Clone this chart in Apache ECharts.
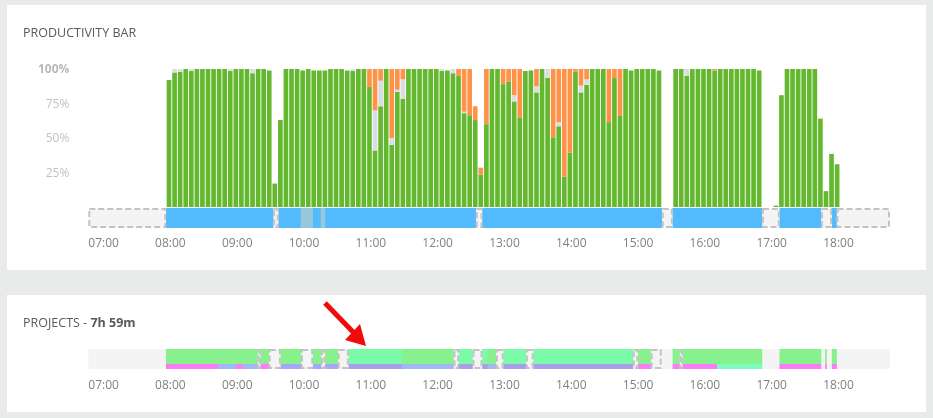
<!DOCTYPE html>
<html><head><meta charset="utf-8">
<script src="https://cdn.jsdelivr.net/npm/echarts@6/dist/echarts.min.js"></script>
<style>
html,body{margin:0;padding:0;background:#e9ebea;}
#wrap{position:relative;width:933px;height:418px;overflow:hidden;}
.panel{position:absolute;background:#fff;}
#chart{position:absolute;left:0;top:0;width:933px;height:418px;}
</style></head><body>
<div id="wrap">
<div class="panel" style="left:7px;top:5px;width:919px;height:265px"></div>
<div class="panel" style="left:7px;top:295px;width:919px;height:117px"></div>
<div id="chart"></div>
</div>
<script>
// ---- data ----
const slotTimes = [
'08:10','08:15','08:20','08:25','08:30','08:35','08:40','08:45','08:50','08:55',
'09:00','09:05','09:10','09:15','09:20','09:25','09:30','09:35','09:40','09:45','09:50','09:55',
'10:00','10:05','10:10','10:15','10:20','10:25','10:30','10:35','10:40','10:45','10:50','10:55',
'11:00','11:05','11:10','11:15','11:20','11:25','11:30','11:35','11:40','11:45','11:50','11:55',
'12:00','12:05','12:10','12:15','12:20','12:25','12:30','12:35','12:40','12:45','12:50','12:55',
'13:00','13:05','13:10','13:15','13:20','13:25','13:30','13:35','13:40','13:45','13:50','13:55',
'14:00','14:05','14:10','14:15','14:20','14:25','14:30','14:35','14:40','14:45','14:50','14:55',
'15:00','15:05','15:10','15:15','15:20','15:25','15:30','15:35','15:40','15:45','15:50','15:55',
'16:00','16:05','16:10','16:15','16:20','16:25','16:30','16:35','16:40','16:45','16:50','16:55',
'17:00','17:05','17:10','17:15','17:20','17:25','17:30','17:35','17:40','17:45','17:50','17:55',
'18:00','18:05','18:10'];
const greenPct = [
92,97.5,98,100,98.5,100,100,100,100,100,
100,98.5,100,100,100,97,100,100,99,17,
63,100,100,100,99,100,99,99,99,100,
100,100,99,98.5,100,100,87,41,73,100,
45,83.5,78.5,100,100,100,100,100,100,98.5,
99,97,95,68,66.5,63,23.5,60,100,100,
89,91,76.5,65,98.5,99,83,100,93.5,50.5,
58.5,22,39.5,98,83,88.5,100,100,100,61.5,
93.5,66,100,99,100,100,100,100,99,0,
0,100,100,95,100,100,100,100,99,100,
100,100,100,100,100,100,99,0,0,1,
81,100,100,100,100,100,100,64,11.5,38.5,
31];
const grayPct = [
0,2.5,2,0,1.5,0,0,0,0,0,
0,1.5,0,0,0,3,0,0,0,0,
0,0,0,0,0,0,0,0,0,0,
0,0,0,1.5,0,0,0,29,18.5,0,
5,1.5,14,0,0,0,0,0,0,1.5,
0,3,0,1,0,0,0,0,0,0,
0,0,4.5,0,0,0,4.5,0,6.5,0,
3,0,0,0,5,4,0,0,0,0,
0,0,0,0,0,0,0,0,0,0,
0,0,0,5,0,0,0,0,0,0,
0,0,0,0,0,0,0,0,0,0,
0,0,0,0,0,0,0,0,0,0,
0];
const orangePct = [
0,0,0,0,0,0,0,0,0,0,
0,0,0,0,0,0,0,0,0,0,
0,0,0,0,0,0,0,0,0,0,
0,0,0,0,0,0,13,30,8.5,0,
50,15,7.5,0,0,0,0,0,0,0,
0,0,5,31,33.5,10,5,40,0,0,
11,9,19,35,0,0,12.5,0,0,49.5,
38.5,78,60.5,2,12,7.5,0,0,0,38.5,
6.5,34,0,0,0,0,0,0,0,0,
0,0,0,0,0,0,0,0,1,0,
0,0,0,0,0,0,0,0,0,0,
0,0,0,0,0,0,0,0,0,0,
0];
const yTicks = [25, 50, 75, 100];
const hourLabels = ['07:00','08:00','09:00','10:00','11:00','12:00','13:00','14:00','15:00','16:00','17:00','18:00'];

// activity timeline strip
const stripStart = ['07:00','08:10','09:46','09:51','10:11','10:22','10:29','10:33','12:48','12:54','15:35','15:45','17:05','17:21','17:58','18:08','18:12'];
const stripEnd   = ['08:10','09:46','09:51','10:11','10:22','10:29','10:33','12:48','12:54','15:35','15:45','17:05','17:21','17:58','18:08','18:12','19:00'];
const stripKind  = ['idle','active','idle','active','manual','active','manual','active','idle','active','idle','active','idle','active','idle','active','idle'];

// projects strip
const projStart  = ['08:10','08:57','09:13','09:19','09:32','09:35','09:42','09:53','10:11','10:22','10:29','10:33','10:44','10:54','11:42','12:28','12:33','12:45','12:54','12:59','13:06','13:13','13:33','13:40','15:09','15:14','15:25','15:45','15:51','15:54','16:25','17:21','18:02','18:08'];
const projEnd    = ['08:57','09:13','09:19','09:32','09:35','09:42','09:53','10:11','10:22','10:29','10:33','10:44','10:54','11:42','12:28','12:33','12:45','12:54','12:59','13:06','13:13','13:33','13:40','15:09','15:14','15:25','15:35','15:51','15:54','16:25','17:05','17:58','18:03','18:12'];
const projTop    = ['G','G','G','G','idle','G','idle','G','idle','G','idle','G','idle','T','G','idle','T','idle','T','G','idle','T','idle','T','idle','G','idle','G','idle','G','G','G','G','G'];
const projBottom = ['pink','lb','pink','lb','idle','pink','idle','peri','idle','peri','idle','peri','idle','purple','lb','idle','purple','idle','purple','lb','idle','purple','idle','purple','idle','pink','idle','pink','idle','pink','mint','pink','pink','pink'];

// ---- helpers / styles ----
function toMin(t){ const p = t.split(':'); return (+p[0])*60 + (+p[1]); }
function fmt(v){ const h = Math.floor(v/60), m = v%60; return (h<10?'0':'')+h+':'+(m<10?'0':'')+m; }
const SLOT = 5;
const X_MIN = toMin(hourLabels[0]);
const X_MAX = toMin('19:00');
const C = {
  green:'#63b82f', gray:'#dcdde0', orange:'#ff9249',
  active:'#53bbfd', manual:'#96c8d9', idleFill:'#f4f4f4', idleStroke:'#c3c3c3',
  G:'#87f28d', T:'#79fba8', pink:'#fb7bf8', lb:'#a2b8f2', peri:'#a5a9f5', purple:'#a99ee9', mint:'#7efbbf'
};
const FONT = '"Open Sans", "Noto Sans", sans-serif';

const barData = slotTimes.map((t,i)=>[toMin(t), toMin(t)+SLOT, greenPct[i], grayPct[i], orangePct[i]]);
const stripData = stripStart.map((s,i)=>[toMin(s), toMin(stripEnd[i]), i]);
const projData = projStart.map((s,i)=>[toMin(s), toMin(projEnd[i]), i]);

function idleBox(x0, y0, x1, y1){
  return {type:'rect', z2:2, shape:{x:x0+1, y:y0+1, width:Math.max(x1-x0-2,1), height:y1-y0-2},
    style:{fill:C.idleFill, stroke:C.idleStroke, lineWidth:2, lineDash:[6,3]}};
}

const xAxisBase = {type:'value', min:X_MIN, max:X_MAX, interval:60,
  splitLine:{show:false}, axisLine:{show:false}, axisTick:{show:false}};

const chart = echarts.init(document.getElementById('chart'), null, {renderer:'canvas'});
chart.setOption({
  backgroundColor:'transparent',
  animation:false,
  grid:[
    {left:88.3, top:69, width:801.7, height:138},
    {left:88.3, top:208, width:801.7, height:20},
    {left:88.3, top:349, width:801.7, height:20, show:true, backgroundColor:'#f4f4f4', borderWidth:0}
  ],
  xAxis:[
    Object.assign({}, xAxisBase, {gridIndex:0, axisLabel:{show:false}}),
    Object.assign({}, xAxisBase, {gridIndex:1, axisLabel:{align:'left', margin:10, color:'#808080', fontSize:12, fontFamily:FONT,
      formatter:v=> v>=X_MAX ? '' : fmt(v)}}),
    Object.assign({}, xAxisBase, {gridIndex:2, axisLabel:{align:'left', margin:11, color:'#808080', fontSize:12, fontFamily:FONT,
      formatter:v=> v>=X_MAX ? '' : fmt(v)}})
  ],
  yAxis:[
    {type:'value', gridIndex:0, min:0, max:yTicks[yTicks.length-1], interval:yTicks[0],
      splitLine:{show:false}, axisLine:{show:false}, axisTick:{show:false},
      axisLabel:{margin:19, fontFamily:FONT, fontSize:12,
        formatter:v=> v===0 ? '' : (v===100 ? '{b|'+v+'%}' : '{n|'+v+'%}'),
        rich:{b:{fontWeight:'bold', color:'#b9b9b9', fontSize:12, fontFamily:FONT, padding:[2,0,0,0]},
              n:{color:'#c2c2c2', fontSize:12, fontFamily:FONT, padding:[2,0,0,0]}}}},
    {type:'value', gridIndex:1, min:0, max:1, show:false},
    {type:'value', gridIndex:2, min:0, max:1, show:false}
  ],
  series:[
    {type:'custom', xAxisIndex:0, yAxisIndex:0, clip:false, data:barData,
      renderItem:(params, api)=>{
        const s = api.value(0), e = api.value(1);
        const x0 = api.coord([s,0])[0], x1 = api.coord([e,0])[0];
        const bx = x0+0.45, bw = x1-x0-0.9;
        const parts = [[api.value(2), C.green],[api.value(3), C.gray],[api.value(4), C.orange]];
        const children = []; let acc = 0;
        parts.forEach(([v,c])=>{
          if(v<=0) return;
          const yb = api.coord([s,acc])[1], yt = api.coord([s,acc+v])[1];
          children.push({type:'rect', shape:{x:bx, y:yt, width:bw, height:yb-yt}, style:{fill:c}});
          acc += v;
        });
        return {type:'group', children};
      }},
    {type:'custom', xAxisIndex:1, yAxisIndex:1, clip:false, data:stripData,
      renderItem:(params, api)=>{
        const a = api.coord([api.value(0),1]), b = api.coord([api.value(1),0]);
        const kind = stripKind[api.value(2)];
        if(kind==='idle') return idleBox(a[0], a[1], b[0], b[1]);
        return {type:'rect', shape:{x:a[0]-0.3, y:a[1], width:b[0]-a[0]+0.6, height:b[1]-a[1]}, style:{fill:C[kind]}};
      }},
    {type:'custom', xAxisIndex:2, yAxisIndex:2, clip:false, data:projData,
      renderItem:(params, api)=>{
        const i = api.value(2);
        const a = api.coord([api.value(0),1]), m = api.coord([api.value(0),0.25]), b = api.coord([api.value(1),0]);
        if(projTop[i]==='idle') return idleBox(a[0], a[1], b[0], b[1]);
        const w = b[0]-a[0]+0.6;
        return {type:'group', children:[
          {type:'rect', shape:{x:a[0]-0.3, y:a[1], width:w, height:m[1]-a[1]+0.3}, style:{fill:C[projTop[i]]}},
          {type:'rect', shape:{x:a[0]-0.3, y:m[1], width:w, height:b[1]-m[1]}, style:{fill:C[projBottom[i]]}}
        ]};
      }}
  ],
  graphic:[
    {type:'text', x:23, y:33.5, style:{text:'PRODUCTIVITY BAR', fill:'#555b60', font:'12.5px '+FONT, verticalAlign:'middle'}},
    {type:'text', x:23, y:323.5, style:{text:'{a|PROJECTS - }{b|7h 59m}', verticalAlign:'middle',
      rich:{a:{fill:'#555b60', fontSize:12.5, fontFamily:FONT}, b:{fill:'#555b60', fontSize:12.5, fontWeight:'bold', fontFamily:FONT}}}},
    {type:'line', shape:{x1:325, y1:303, x2:354, y2:333}, style:{stroke:'#f00a0a', lineWidth:5}},
    {type:'polygon', shape:{points:[[366,346],[345,340],[360,324]]}, style:{fill:'#f00a0a'}}
  ]
});
</script>
</body></html>
